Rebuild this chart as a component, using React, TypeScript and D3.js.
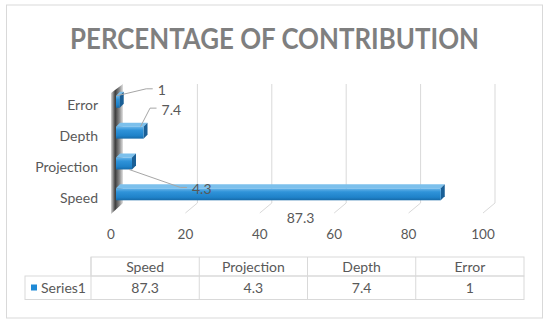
import React from 'react';
import * as d3 from 'd3';

const title = 'PERCENTAGE OF CONTRIBUTION';
const categories = ['Speed', 'Projection', 'Depth', 'Error'];
const values = [87.3, 4.3, 7.4, 1];
const xTicks = [0, 20, 40, 60, 80, 100];
const seriesName = 'Series1';

// where each data label sits relative to the end of its bar (Excel dragged them around)
const labelNudge: Record<string, { dx: number; dy: number; lead: boolean }> = {
  Error: { dx: 38, dy: -12, lead: true },
  Depth: { dx: 18, dy: -23.5, lead: true },
  Projection: { dx: 60, dy: 25, lead: true },
  Speed: { dx: -154, dy: 23, lead: false },
};

const font = 'Lato, "Open Sans", sans-serif';
const textCol = '#595959';
const gridCol = '#d9d9d9';

const App = () => {
  const width = 550, height = 326;
  const gridTop = 84, floorBack = 203, floorFront = 213;
  const depth = 4, barH = 12;

  const xFront = d3.scaleLinear().domain([0, 100]).range([111, 483]);
  const xBar = d3.scaleLinear().domain([0, 100]).range([116, 488]);
  const xBack = d3.scaleLinear().domain([0, 100]).range([123, 495]);

  const y = d3.scalePoint<string>()
    .domain(categories.slice().reverse())
    .range([101.8, 194.3]);

  const col = d3.scaleBand<string>().domain(categories).range([91, 524]);
  const tableTop = 257, rowMid = 276, tableBottom = 299.5, tableLeft = 25;

  const rows = categories.map((c, i) => ({ name: c, value: values[i] }));

  return (
    <svg width={width} height={height} style={{ position: 'absolute', left: 0, top: 0 }}
      fontFamily={font}>
      <defs>
        <linearGradient id="wall" x1="0" x2="1" y1="0" y2="0">
          <stop offset="0" stopColor="#d6d6d6" />
          <stop offset="0.35" stopColor="#3d3d3d" />
          <stop offset="0.7" stopColor="#8a8a8a" />
          <stop offset="1" stopColor="#e2e2e2" />
        </linearGradient>
        <linearGradient id="front" x1="0" x2="0" y1="0" y2="1">
          <stop offset="0" stopColor="#6ab6ea" />
          <stop offset="0.3" stopColor="#2f93d9" />
          <stop offset="0.75" stopColor="#1f82c9" />
          <stop offset="1" stopColor="#176aa8" />
        </linearGradient>
      </defs>
      <rect x={6.5} y={5} width={536} height={313} fill="#fff" stroke={gridCol} />

      <text x={274.5} y={49} textAnchor="middle" fontSize={29} fontWeight={700}
        fill="#7f7f7f" textLength={409} lengthAdjust="spacingAndGlyphs">{title}</text>

      {/* gridlines on back wall with floor slant */}
      {xTicks.filter(t => t > 0).map(t => (
        <polyline key={t} fill="none" stroke={gridCol} strokeWidth={1}
          points={`${xBack(t)},${gridTop} ${xBack(t)},${floorBack} ${xFront(t)},${floorFront}`} />
      ))}

      {/* side wall */}
      <polygon fill="url(#wall)"
        points={`${xFront(0)},${gridTop + 9} ${xBack(0)},${gridTop} ${xBack(0)},${floorBack} ${xFront(0)},${floorFront + 1}`} />

      {/* 3d bars */}
      {rows.map(d => {
        const x0 = xBar(0), x1 = xBar(d.value);
        const y0 = (y(d.name) as number) - barH / 2, y1 = y0 + barH;
        return (
          <g key={d.name}>
            <polygon fill="#7cc0ec"
              points={`${x0},${y0} ${x0 + depth},${y0 - depth} ${x1 + depth},${y0 - depth} ${x1},${y0}`} />
            <polygon fill="#1a5f96"
              points={`${x1},${y0} ${x1 + depth},${y0 - depth} ${x1 + depth},${y1 - depth} ${x1},${y1}`} />
            <rect x={x0} y={y0} width={x1 - x0} height={barH} fill="url(#front)" />
          </g>
        );
      })}

      {/* category labels */}
      {categories.map(c => (
        <text key={c} x={98} y={(y(c) as number) + 3} textAnchor="end" dominantBaseline="central"
          fontSize={14} fill={textCol}>{c}</text>
      ))}

      {/* value ticks */}
      {xTicks.map(t => (
        <text key={t} x={xFront(t)} y={234} textAnchor="middle" dominantBaseline="central"
          fontSize={13.5} fill={textCol}>{t}</text>
      ))}

      {/* data labels with leader lines */}
      {rows.map(d => {
        const n = labelNudge[d.name];
        const bx = xBar(d.value), cy = y(d.name) as number;
        const lx = bx + n.dx, ly = cy + n.dy;
        const end = lx - 5, elbow = end - 6.5;
        const sx = bx - 3, sy = n.dy < 0 ? cy - 6 : cy + 6;
        return (
          <g key={d.name}>
            {n.lead && (
              <polyline fill="none" stroke="#a6a6a6" strokeWidth={1}
                points={`${sx},${sy} ${elbow},${ly - 1} ${end},${ly - 1}`} />
            )}
            <text x={lx} y={ly} dominantBaseline="central" fontSize={14} fill={textCol}>{d.value}</text>
          </g>
        );
      })}

      {/* data table */}
      <g stroke={gridCol} fill="none">
        <rect x={col.range()[0]} y={tableTop} width={col.range()[1] - col.range()[0]} height={rowMid - tableTop} />
        <rect x={tableLeft} y={rowMid} width={col.range()[1] - tableLeft} height={tableBottom - rowMid} />
        {categories.map(c => (
          <line key={c} x1={col(c)} x2={col(c)} y1={tableTop} y2={tableBottom} />
        ))}
      </g>
      {rows.map(d => (
        <g key={d.name}>
          <text x={(col(d.name) as number) + col.bandwidth() / 2} y={266.7} textAnchor="middle"
            dominantBaseline="central" fontSize={14} fill={textCol}>{d.name}</text>
          <text x={(col(d.name) as number) + col.bandwidth() / 2} y={287.5} textAnchor="middle"
            dominantBaseline="central" fontSize={14} fill={textCol}>{d.value}</text>
        </g>
      ))}
      <rect x={31} y={284.5} width={6} height={6} fill="#1f8ad6" />
      <text x={41} y={287.5} dominantBaseline="central" fontSize={14} fill={textCol}>{seriesName}</text>
    </svg>
  );
};

export default App;
